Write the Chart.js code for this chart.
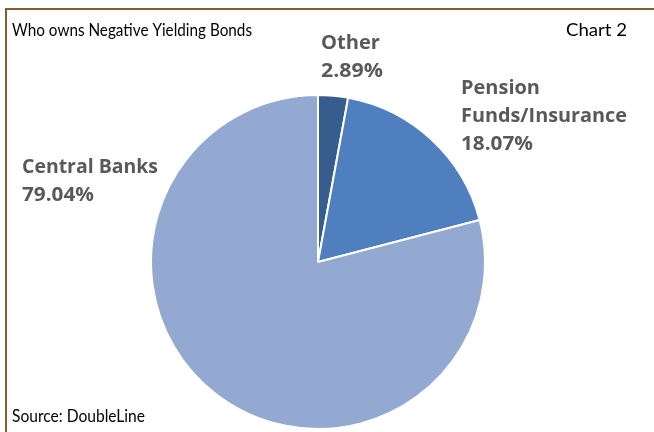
<!DOCTYPE html>
<html>
<head>
<meta charset="utf-8">
<script src="https://cdn.jsdelivr.net/npm/chart.js@4.4.0/dist/chart.umd.min.js"></script>
<style>
html,body{margin:0;padding:0;background:#fff;}
#wrap{width:654px;height:432px;position:relative;}
</style>
</head>
<body>
<div id="wrap"><canvas id="c" width="654" height="432"></canvas></div>
<script>
const categories = ["Other", "Pension Funds/Insurance", "Central Banks"];
const labelLines = [["Other", "2.89%"], ["Pension", "Funds/Insurance", "18.07%"], ["Central Banks", "79.04%"]];
const shares = [2.89, 18.07, 79.04];
const colors = ["#375D8E", "#4F7FBE", "#93A9D1"];
const titleText = "Who owns Negative Yielding Bonds";
const chartNo = "Chart 2";
const sourceText = "Source: DoubleLine";

// draw text horizontally condensed/expanded to a target width (Calibri-like look)
function fitText(ctx, t, x, y, w, align) {
  const m = ctx.measureText(t).width;
  const sx = w / m;
  ctx.save();
  ctx.textAlign = 'left';
  ctx.translate(align === 'right' ? x - w : x, y);
  ctx.scale(sx, 1);
  ctx.fillText(t, 0, 0);
  ctx.restore();
}

const deco = {
  id: 'deco',
  beforeDraw(chart) {
    const ctx = chart.ctx;
    ctx.save();
    ctx.fillStyle = '#fff';
    ctx.fillRect(0, 0, chart.width, chart.height);
    ctx.strokeStyle = '#875B30';
    ctx.lineWidth = 2;
    ctx.beginPath();
    ctx.moveTo(654, 9);
    ctx.lineTo(6, 9);
    ctx.lineTo(6, 432);
    ctx.stroke();
    ctx.fillStyle = '#000';
    ctx.font = '17.5px Lato, sans-serif';
    ctx.textBaseline = 'alphabetic';
    fitText(ctx, titleText, 12, 35.5, 240, 'left');
    fitText(ctx, chartNo, 627, 35.5, 61, 'right');
    fitText(ctx, sourceText, 12, 421.5, 133, 'left');
    ctx.restore();
  },
  afterDraw(chart) {
    const ctx = chart.ctx;
    const pos = [[321, 49], [461, 94], [22, 173]];
    const widths = [[59, 62], [79, 166, 72], [136, 72]];
    ctx.save();
    ctx.fillStyle = '#595959';
    ctx.font = 'bold 19.5px "Open Sans", sans-serif';
    ctx.textBaseline = 'alphabetic';
    labelLines.forEach((lines, i) => {
      lines.forEach((t, j) => fitText(ctx, t, pos[i][0], pos[i][1] + j * 28, widths[i][j], 'left'));
    });
    ctx.restore();
  }
};

new Chart(document.getElementById('c'), {
  type: 'pie',
  data: {
    labels: categories,
    datasets: [{
      data: shares,
      backgroundColor: colors,
      borderColor: '#ffffff',
      borderWidth: 2
    }]
  },
  options: {
    responsive: false,
    animation: false,
    radius: 167,
    layout: { padding: { left: 151, right: 169, top: 95, bottom: 3 } },
    plugins: { legend: { display: false }, tooltip: { enabled: false }, title: { display: false } }
  },
  plugins: [deco]
});
</script>
</body>
</html>
